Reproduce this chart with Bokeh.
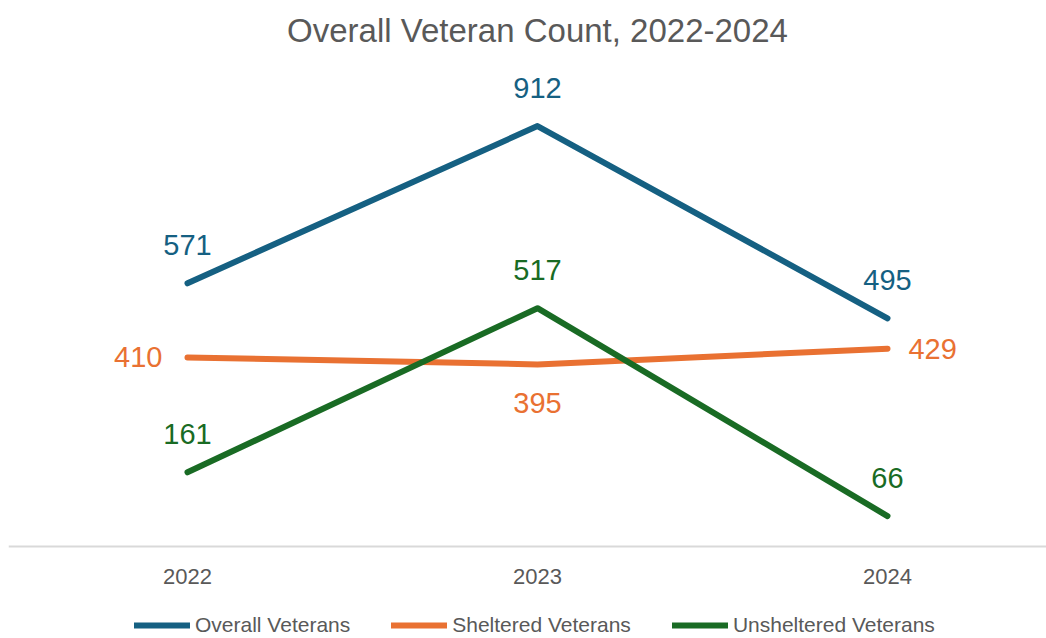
from bokeh.plotting import figure
from bokeh.models import ColumnDataSource, Legend, LegendItem, Label, FixedTicker, Range1d
from bokeh.embed import file_html
from bokeh.resources import INLINE
from bokeh.core.properties import value

# ---- data ----
years = [2022, 2023, 2024]
year_labels = ["2022", "2023", "2024"]
overall = [571, 912, 495]
sheltered = [410, 395, 429]
unsheltered = [161, 517, 66]
series_names = ["Overall Veterans", "Sheltered Veterans", "Unsheltered Veterans"]
title_text = "Overall Veteran Count, 2022-2024"

# ---- styles ----
colors = ["#156082", "#E97132", "#196B24"]
FONT = "Liberation Sans"
GRAY = "#595959"
# label placement per series (x_offset, y_offset, align)
label_styles = [
    ([0, 0, 0], [-38, -38, -38], ["center", "center", "center"]),
    ([-25, 0, 21], [0, 39, 0], ["right", "center", "left"]),
    ([0, 0, 0], [-38, -38, -38], ["center", "center", "center"]),
]

p = figure(width=1046, height=638, output_backend="svg", toolbar_location=None,
           x_range=Range1d(2021.4886, 2024.4543), y_range=Range1d(-199.6, 1184.4),
           y_axis_location=None,
           min_border_left=8, min_border_right=0, min_border_top=0, min_border_bottom=0)
p.xgrid.visible = False
p.ygrid.visible = False
p.outline_line_color = None
p.background_fill_color = "white"
p.border_fill_color = "white"

ax = p.xaxis[0]
ax.fixed_location = 0
ax.ticker = FixedTicker(ticks=years)
ax.major_label_overrides = {y: l for y, l in zip(years, year_labels)}
ax.major_tick_line_color = None
ax.minor_tick_line_color = None
ax.major_tick_out = 0
ax.major_tick_in = 0
ax.axis_line_color = "#D9D9D9"
ax.axis_line_width = 2
ax.major_label_text_font = FONT
ax.major_label_text_font_size = "22px"
ax.major_label_text_color = GRAY
ax.major_label_standoff = 23

series = [overall, sheltered, unsheltered]
items = []
for name, vals, col, (xo, yo, al) in zip(series_names, series, colors, label_styles):
    src = ColumnDataSource(dict(x=years, y=vals, t=[str(v) for v in vals],
                                xo=xo, yo=yo, al=al))
    r = p.line("x", "y", source=src, line_color=col, line_width=6,
               line_cap="round", line_join="round")
    p.text("x", "y", text="t", source=src, x_offset="xo", y_offset="yo",
           text_align="al", text_baseline="middle", text_color=col,
           text_font=value(FONT), text_font_size="29px")
    items.append(LegendItem(label=name, renderers=[r]))

title = Label(x=2023, y=1119, text=title_text, text_align="center",
              text_baseline="middle", text_font=FONT, text_font_size="33px",
              text_color=GRAY)
p.add_layout(title)

legend = Legend(items=items, orientation="horizontal", location=(126, 1),
                glyph_width=56, glyph_height=24, label_standoff=5, spacing=41,
                padding=0, margin=0, border_line_color=None,
                background_fill_alpha=0,
                label_text_font=FONT, label_text_font_size="21px",
                label_text_color=GRAY)
p.add_layout(legend)

open("out.html", "w").write(file_html(p, INLINE))
